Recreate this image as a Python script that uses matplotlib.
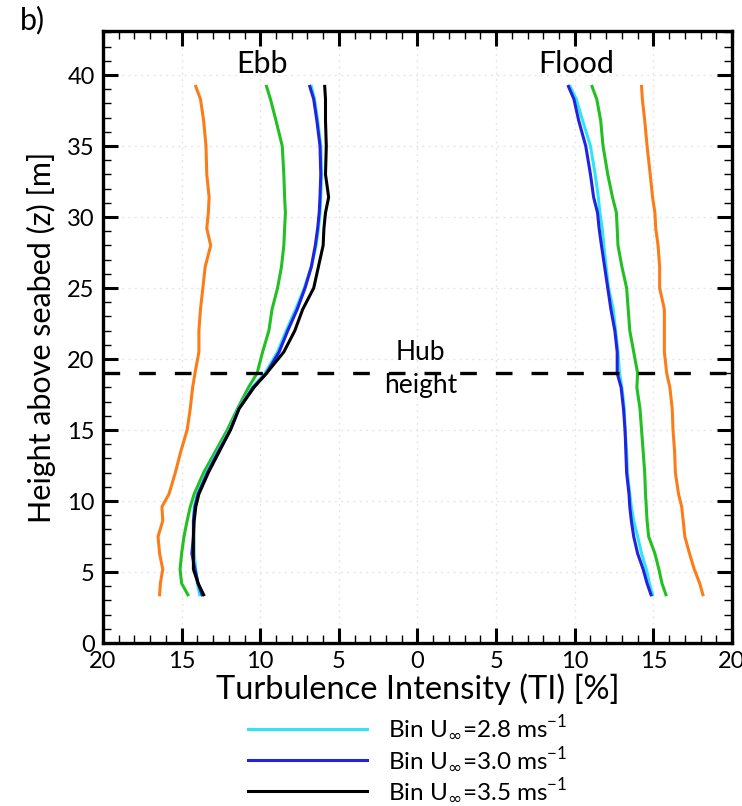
import matplotlib
matplotlib.use("Agg")
import matplotlib.pyplot as plt
from matplotlib.ticker import MultipleLocator, FuncFormatter

plt.rcParams['font.family'] = ['Lato', 'DejaVu Sans']
plt.rcParams['mathtext.fontset'] = 'dejavusans'

# heights above seabed [m]
z = [3.4, 4.2, 5.2, 6.3, 7.5, 8.6, 9.6, 10.5, 12.0, 13.5, 15.0, 16.5, 18.0, 19.0,
     20.5, 22.0, 23.5, 25.0, 26.5, 28.0, 29.2, 30.3, 31.4, 33.0, 35.0, 36.8, 38.3, 39.2]

# ebb TI [%]
ebb_orange = [16.4, 16.35, 16.2, 16.4, 16.5, 16.2, 16.25, 15.8, 15.4, 15.05, 14.65, 14.45, 14.3, 14.15,
              13.9, 13.9, 13.8, 13.65, 13.5, 13.15, 13.4, 13.3, 13.25, 13.4, 13.45, 13.6, 13.8, 14.1]
ebb_green = [14.6, 15.0, 15.1, 15.0, 14.85, 14.65, 14.45, 14.2, 13.6, 12.85, 12.1, 11.45, 10.75, 10.2,
             9.85, 9.45, 9.25, 8.9, 8.65, 8.5, 8.45, 8.4, 8.45, 8.5, 8.6, 9.0, 9.35, 9.6]
ebb_cyan = [13.85, 14.0, 14.1, 14.2, 14.2, 14.25, 14.2, 14.0, 13.4, 12.7, 11.95, 11.4, 10.5, 9.7,
            8.9, 8.35, 7.75, 7.2, 6.75, 6.45, 6.3, 6.2, 6.15, 6.1, 6.15, 6.35, 6.55, 6.75]
ebb_blue = [13.7, 13.95, 14.15, 14.35, 14.25, 14.25, 14.15, 13.95, 13.35, 12.65, 11.9, 11.35, 10.45, 9.6,
            8.8, 8.25, 7.65, 7.15, 6.75, 6.5, 6.35, 6.25, 6.2, 6.15, 6.2, 6.4, 6.6, 6.85]
ebb_black = [13.6, 13.95, 14.25, 14.25, 14.25, 14.2, 14.1, 13.9, 13.3, 12.6, 11.9, 11.35, 10.4, 9.6,
             8.5, 7.8, 7.3, 6.6, 6.3, 6.0, 5.95, 5.85, 5.65, 5.85, 5.8, 5.85, 5.85, 5.9]

# flood TI [%]
flood_orange = [18.15, 17.95, 17.6, 17.3, 17.0, 16.9, 16.8, 16.6, 16.4, 16.35, 16.25, 16.2, 16.05, 15.85,
                15.7, 15.7, 15.7, 15.4, 15.4, 15.3, 15.15, 15.1, 14.95, 14.8, 14.6, 14.45, 14.3, 14.25]
flood_green = [15.8, 15.55, 15.35, 15.1, 14.7, 14.6, 14.55, 14.5, 14.45, 14.35, 14.25, 14.15, 13.95, 14.0,
               13.75, 13.5, 13.4, 13.3, 13.0, 12.75, 12.7, 12.65, 12.4, 12.1, 11.8, 11.65, 11.4, 11.1]
flood_cyan = [14.95, 14.75, 14.55, 14.25, 14.0, 13.75, 13.6, 13.5, 13.35, 13.3, 13.2, 13.15, 13.0, 12.85,
              12.75, 12.6, 12.45, 12.15, 12.0, 11.85, 11.75, 11.6, 11.5, 11.3, 11.0, 10.5, 10.1, 9.7]
flood_blue = [14.85, 14.6, 14.35, 14.0, 13.75, 13.6, 13.5, 13.45, 13.3, 13.25, 13.2, 13.1, 12.95, 12.7,
              12.7, 12.55, 12.3, 12.1, 11.9, 11.7, 11.55, 11.45, 11.2, 11.0, 10.7, 10.25, 9.95, 9.6]

hub_z = 19.0
labels = ['Bin U$_{\\infty}$=2.8 ms$^{\\mathregular{-1}}$',
          'Bin U$_{\\infty}$=3.0 ms$^{\\mathregular{-1}}$',
          'Bin U$_{\\infty}$=3.5 ms$^{\\mathregular{-1}}$']

c_orange = '#fb7d1a'
c_green = '#22c022'
c_cyan = '#30e4f8'
c_blue = '#2222e0'
c_black = '#000000'

fig = plt.figure(figsize=(7.42, 8.06), dpi=100)
ax = fig.add_axes([0.1388, 0.2022, 0.8477, 0.7593])

lw = 2.2
ax.plot([-v for v in ebb_orange], z, color=c_orange, lw=lw)
ax.plot([-v for v in ebb_green], z, color=c_green, lw=lw)
ax.plot([-v for v in ebb_cyan], z, color=c_cyan, lw=lw)
ax.plot([-v for v in ebb_blue], z, color=c_blue, lw=lw)
ax.plot([-v for v in ebb_black], z, color=c_black, lw=lw)

ax.plot(flood_orange, z, color=c_orange, lw=lw)
ax.plot(flood_green, z, color=c_green, lw=lw)
h1, = ax.plot(flood_cyan, z, color=c_cyan, lw=lw)
h2, = ax.plot(flood_blue, z, color=c_blue, lw=lw)
h3 = plt.Line2D([], [], color=c_black, lw=lw)

ax.axhline(hub_z, color='black', lw=2.4, dashes=(5, 5.7))

ax.set_xlim(-20, 20)
ax.set_ylim(0, 43.1)
ax.xaxis.set_major_locator(MultipleLocator(5))
ax.xaxis.set_minor_locator(MultipleLocator(1))
ax.yaxis.set_major_locator(MultipleLocator(5))
ax.yaxis.set_minor_locator(MultipleLocator(1))
ax.xaxis.set_major_formatter(FuncFormatter(lambda v, p: '%d' % abs(round(v))))
ax.tick_params(which='both', direction='in', top=True, right=True, labelsize=17, pad=6)
ax.tick_params(which='major', length=11, width=2.2)
ax.tick_params(which='minor', length=6, width=1.0)
for s in ax.spines.values():
    s.set_linewidth(2.4)
ax.grid(True, which='major', color='#e6e6e6', lw=1.0, ls=(0, (1.5, 3)))
ax.set_axisbelow(True)

ax.set_xlabel('Turbulence Intensity (TI) [%]', fontsize=23.5, labelpad=1)
ax.set_ylabel('Height above seabed (z) [m]', fontsize=22, labelpad=8)

ax.text(-9.9, 40.8, 'Ebb', fontsize=22, ha='center', va='center')
ax.text(10.1, 40.8, 'Flood', fontsize=22, ha='center', va='center')
ax.text(0.2, 20.45, 'Hub', fontsize=19, ha='center', va='center')
ax.text(0.2, 18.15, 'height', fontsize=19, ha='center', va='center')

fig.text(0.027, 0.975, 'b)', fontsize=22, ha='left', va='center')

fig.legend([h1, h2, h3], labels, loc='upper left', bbox_to_anchor=(0.334, 0.114),
           frameon=False, fontsize=17.5, handlelength=4.9, handletextpad=0.85,
           labelspacing=0.12, borderpad=0, borderaxespad=0)

fig.savefig('out.png', dpi=100)
